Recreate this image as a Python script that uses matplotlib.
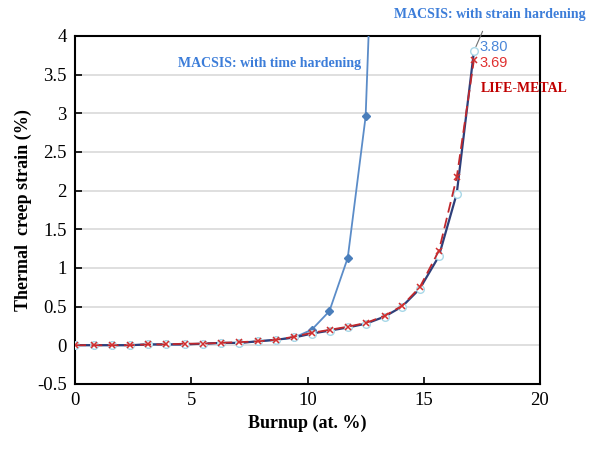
import matplotlib.pyplot as plt
import numpy as np

# burnup (at. %) grid of the calculation
burnup = [0.0, 0.79, 1.57, 2.35, 3.13, 3.91, 4.71, 5.50, 6.29, 7.07, 7.86, 8.64,
          9.43, 10.18, 10.97, 11.75, 12.53, 13.32, 14.07, 14.83, 15.65, 16.42, 17.16]

strain_hard = [0.0, 0.0, 0.0, 0.0, 0.01, 0.01, 0.01, 0.02, 0.03, 0.03, 0.05, 0.07,
               0.10, 0.15, 0.19, 0.23, 0.28, 0.37, 0.50, 0.73, 1.15, 1.96, 3.80]
life_metal = [0.0, 0.0, 0.0, 0.0, 0.01, 0.01, 0.02, 0.02, 0.03, 0.04, 0.05, 0.07,
              0.11, 0.16, 0.20, 0.24, 0.29, 0.38, 0.51, 0.75, 1.22, 2.17, 3.69]

burnup_time = [0.0, 0.79, 1.57, 2.35, 3.13, 3.91, 4.71, 5.50, 6.29, 7.07, 7.86, 8.64,
               9.43, 10.18, 10.94, 11.73, 12.50, 13.28]
time_hard = [0.0, 0.0, 0.0, 0.0, 0.01, 0.01, 0.01, 0.02, 0.03, 0.03, 0.05, 0.07,
             0.10, 0.20, 0.44, 1.13, 2.96, 9.40]

blue_txt = '#3C7DD9'
red_txt = '#C00000'

plt.rcParams['font.family'] = ['Liberation Serif', 'DejaVu Serif']

fig = plt.figure(figsize=(5.92, 4.5), dpi=100)
ax = fig.add_axes([0.127, 0.147, 0.785, 0.773])

ax.plot(burnup_time, time_hard, color='#5B8CC8', lw=1.3, marker='D', ms=4.5,
        mfc='#4A7EBB', mec='#4A7EBB', zorder=3)
ax.plot(burnup, strain_hard, color='#2E3F7A', lw=1.6, marker='o', ms=5.5,
        mfc='white', mec='#A8D8E8', mew=1.0, zorder=4)
ax.plot(burnup, life_metal, color='#C0282D', lw=1.3, ls=(0, (6, 3)), marker='x',
        ms=5, mec='#D03030', mew=1.1, zorder=5)

ax.set_xlim(0, 20)
ax.set_ylim(-0.5, 4)
ax.set_xticks([0, 5, 10, 15, 20])
ax.set_yticks(np.arange(-0.5, 4.01, 0.5))
ax.set_yticklabels(['-0.5', '0', '0.5', '1', '1.5', '2', '2.5', '3', '3.5', '4'])
ax.yaxis.grid(True, color='#D9D9D9', lw=1.2)
ax.set_axisbelow(True)
ax.tick_params(direction='in', length=5, width=1.2, labelsize=13.5, pad=6)
for s in ax.spines.values():
    s.set_linewidth(1.5)

ax.set_xlabel('Burnup (at. %)', fontsize=13, fontweight='bold')
ax.set_ylabel('Thermal  creep strain (%)', fontsize=13, fontweight='bold')

ax.text(12.3, 3.64, 'MACSIS: with time hardening', color=blue_txt, fontsize=10,
        fontweight='bold', ha='right', va='center')
ax.annotate('MACSIS: with strain hardening', xy=(17.2, 3.83), xytext=(17.85, 4.28),
            color=blue_txt, fontsize=10, fontweight='bold', ha='center', va='center',
            annotation_clip=False,
            arrowprops=dict(arrowstyle='-', color='#707070', lw=0.8, shrinkA=6, shrinkB=2))
ax.text(17.45, 3.32, 'LIFE-METAL', color=red_txt, fontsize=10, fontweight='bold',
        ha='left', va='center', clip_on=False)
ax.text(17.4, 3.86, f'{strain_hard[-1]:.2f}', color='#4A86D8', fontsize=10.5,
        family=['Liberation Sans'], ha='left', va='center')
ax.text(17.4, 3.65, f'{life_metal[-1]:.2f}', color='#E03030', fontsize=10.5,
        family=['Liberation Sans'], ha='left', va='center')

fig.savefig('out.png', dpi=100)
